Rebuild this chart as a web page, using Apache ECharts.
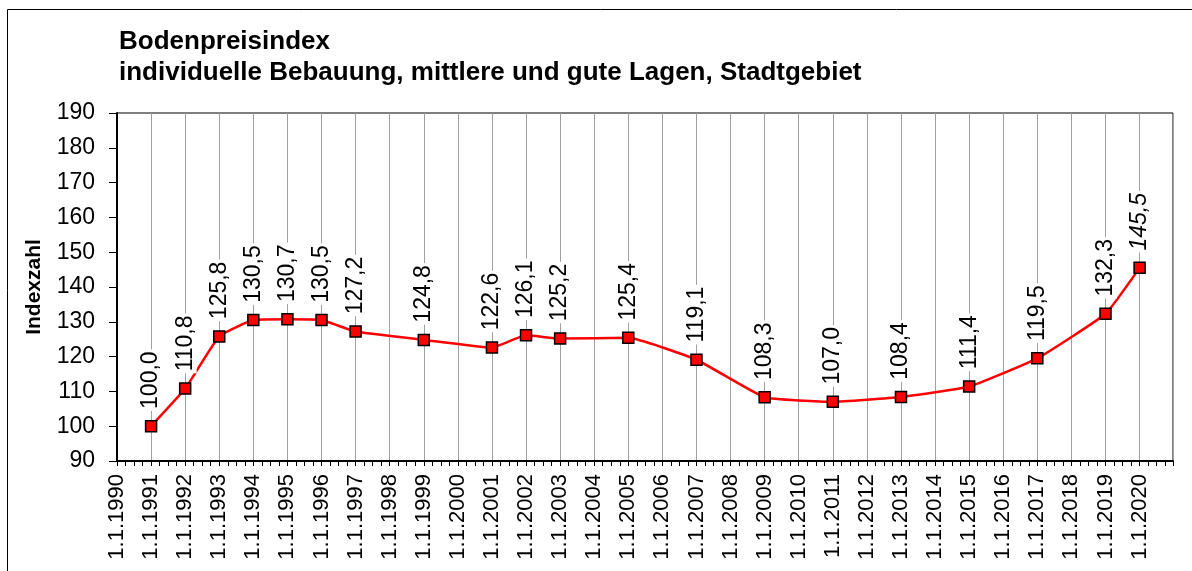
<!DOCTYPE html>
<html>
<head>
<meta charset="utf-8">
<script src="https://cdn.jsdelivr.net/npm/echarts@6/dist/echarts.min.js"></script>
<style>
  html, body { margin: 0; padding: 0; background: #fff; }
  #main { width: 1192px; height: 571px; }
</style>
</head>
<body>
<div id="main"></div>
<script>
var years = [1991, 1992, 1993, 1994, 1995, 1996, 1997, 1999, 2001, 2002, 2003, 2005, 2007, 2009, 2011, 2013, 2015, 2017, 2019, 2020];
var values = [100.0, 110.8, 125.8, 130.5, 130.7, 130.5, 127.2, 124.8, 122.6, 126.1, 125.2, 125.4, 119.1, 108.3, 107.0, 108.4, 111.4, 119.5, 132.3, 145.5];
var titleLines = ['Bodenpreisindex', 'individuelle Bebauung, mittlere und gute Lagen, Stadtgebiet'];

var chart = echarts.init(document.getElementById('main'));

var points = [];
for (var i = 0; i < years.length; i++) {
  var p = { value: [years[i], values[i]] };
  // last value is shown in italics
  if (i == years.length - 1) {
    p.label = { fontStyle: 'italic' };
  }
  points.push(p);
}

chart.setOption({
  backgroundColor: '#ffffff',
  animation: false,
  title: {
    text: titleLines.join('\n'),
    left: 114,
    top: 21,
    textStyle: {
      fontFamily: 'Liberation Sans',
      fontWeight: 'bold',
      fontSize: 26,
      lineHeight: 31,
      color: '#000'
    }
  },
  graphic: [{
    type: 'rect',
    shape: { x: 7.5, y: 9.5, width: 1300, height: 700 },
    style: { fill: 'none', stroke: '#000', lineWidth: 1 },
    silent: true
  }],
  grid: {
    left: 117,
    right: 19,
    top: 113,
    bottom: 110,
    show: true,
    borderColor: '#000',
    borderWidth: 1
  },
  xAxis: {
    type: 'value',
    min: 1990,
    max: 2020.98,
    interval: 1,
    axisLine: { show: true, onZero: false, lineStyle: { color: '#000', width: 2 } },
    axisTick: { show: true, inside: false, length: 5, lineStyle: { color: '#000', width: 1 } },
    minorTick: { show: true, splitNumber: 4, length: 5, lineStyle: { color: '#000', width: 1 } },
    splitLine: { show: true, lineStyle: { color: '#a0a0a0', width: 1 } },
    axisLabel: {
      rotate: 90,
      margin: 13,
      showMaxLabel: false,
      fontFamily: 'Liberation Sans',
      fontSize: 22,
      color: '#000',
      formatter: function (v) {
        if (Math.round(v) != v) return '';
        return '1.1.' + v;
      }
    }
  },
  yAxis: {
    type: 'value',
    min: 90,
    max: 190,
    interval: 10,
    name: 'Indexzahl',
    nameLocation: 'middle',
    nameGap: 72,
    nameTextStyle: {
      fontFamily: 'Liberation Sans',
      fontWeight: 'bold',
      fontSize: 21,
      color: '#000'
    },
    axisLine: { show: true, lineStyle: { color: '#000', width: 2 } },
    axisTick: { show: true, inside: false, length: 8, lineStyle: { color: '#000', width: 1 } },
    splitLine: { show: false },
    axisLabel: {
      margin: 22,
      fontFamily: 'Liberation Sans',
      fontSize: 23,
      color: '#000'
    }
  },
  series: [{
    name: 'Bodenpreisindex',
    type: 'line',
    data: points,
    smooth: 0.12,
    symbol: 'rect',
    symbolSize: 11,
    lineStyle: { color: '#ff0000', width: 2.5 },
    itemStyle: { color: '#ff0000', borderColor: '#000', borderWidth: 1.5 },
    label: {
      show: true,
      position: 'top',
      distance: 9,
      rotate: 90,
      align: 'left',
      verticalAlign: 'middle',
      fontFamily: 'Liberation Sans',
      fontSize: 23,
      color: '#000',
      backgroundColor: '#fff',
      padding: [0, 2],
      formatter: function (p) {
        return p.value[1].toFixed(1).replace('.', ',');
      }
    },
    z: 3
  }]
});
</script>
</body>
</html>
